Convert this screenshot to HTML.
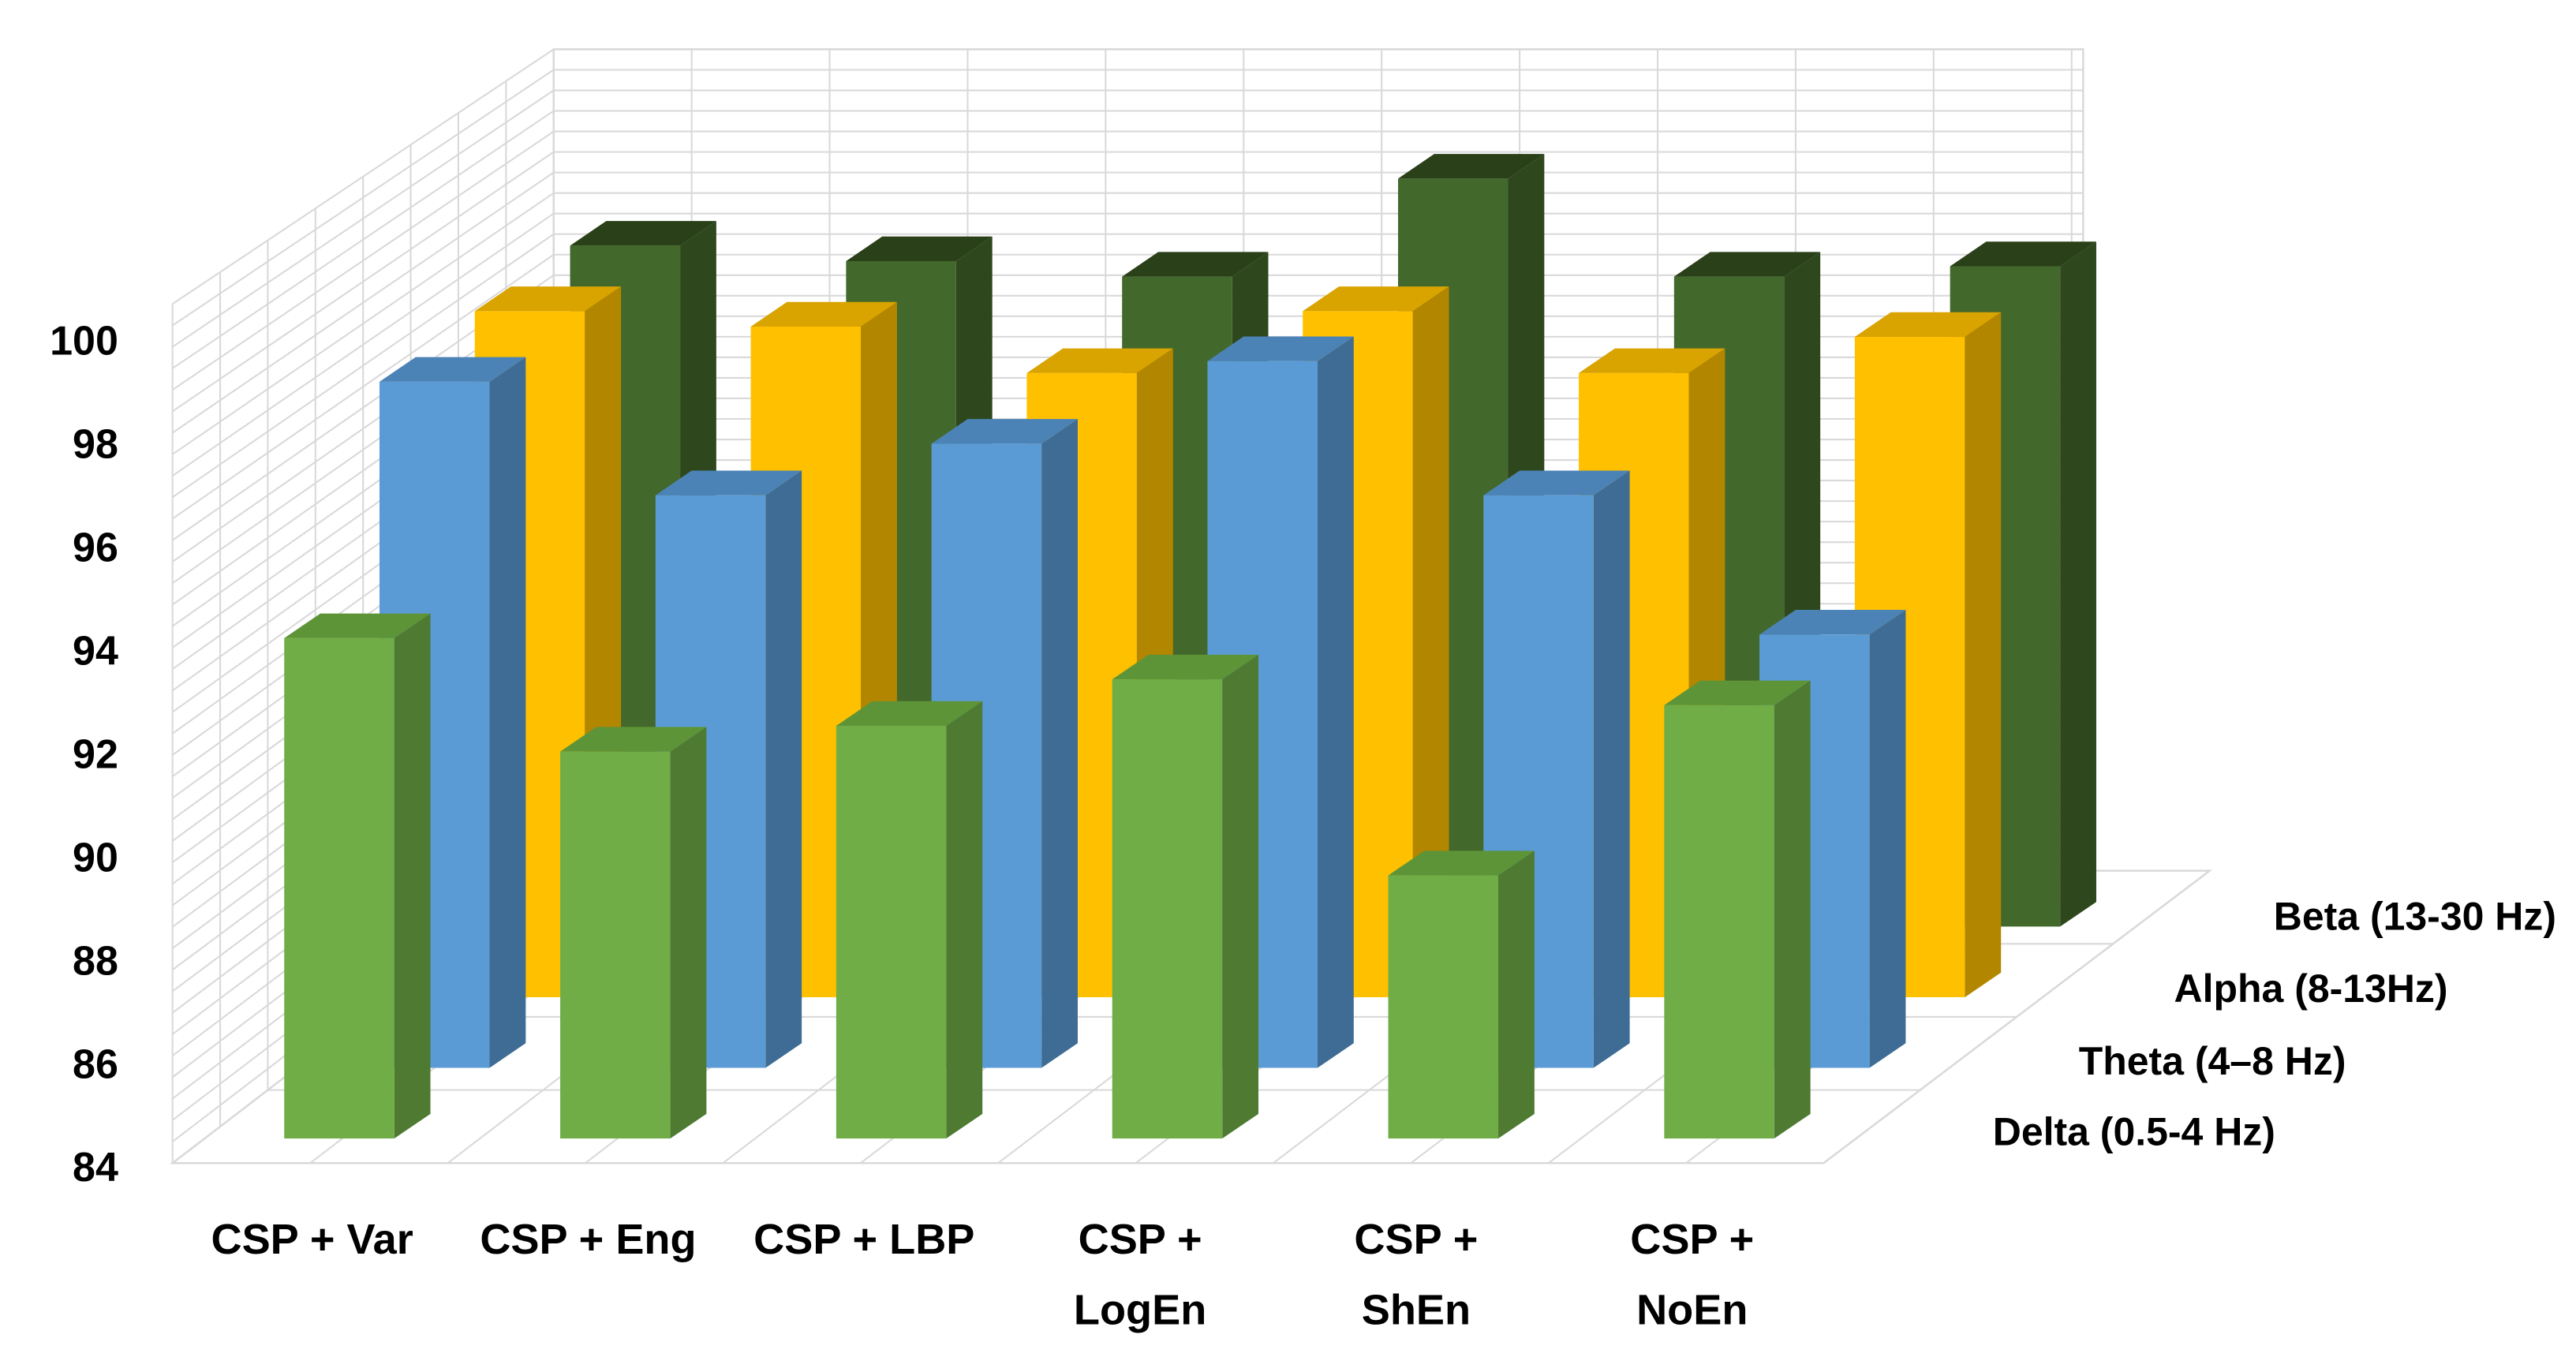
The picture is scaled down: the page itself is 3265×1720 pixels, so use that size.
<!DOCTYPE html>
<html><head><meta charset="utf-8">
<style>
html,body{margin:0;padding:0;background:#fff;}
svg{display:block;}
text{font-family:"Liberation Sans",sans-serif;font-weight:bold;fill:#000;}
</style></head>
<body>
<svg id="chart" width="3265" height="1720" viewBox="0 0 1568 826" preserveAspectRatio="none" xmlns="http://www.w3.org/2000/svg">
<g id="grid"></g>
<g id="bars"></g>
<g id="labels"></g>
</svg>
<script>
const categories = ["CSP + Var","CSP + Eng","CSP + LBP","CSP + LogEn","CSP + ShEn","CSP + NoEn"];
const seriesNames = ["Delta (0.5-4 Hz)","Theta (4–8 Hz)","Alpha (8-13Hz)","Beta (13-30 Hz)"];
const delta = [93.7,91.5,92.0,92.9,89.1,92.4];
const theta = [97.3,95.1,96.1,97.7,95.1,92.4];
const alpha = [97.3,97.0,96.1,97.3,96.1,96.8];
const beta  = [97.2,96.9,96.6,98.5,96.6,96.8];
const yTicks = [84,86,88,90,92,94,96,98,100];

const NS="http://www.w3.org/2000/svg";
function mk(tag,attrs,parent){const e=document.createElementNS(NS,tag);for(const k in attrs)e.setAttribute(k,attrs[k]);parent.appendChild(e);return e;}
const grid=document.getElementById('grid'), barsG=document.getElementById('bars'), labels=document.getElementById('labels');

const yMin=84, pxPerUnit=31.4;
const frontBase=693, rowDx=58, rowDy=43, catStep=168, x0=173, barW=67, depX=22, depY=15;
function xPos(ci,row){return x0+ci*catStep+row*rowDx;}
function yPos(v,row){return frontBase-row*rowDy-(v-yMin)*pxPerUnit;}

// grid
const gc="#d9d9d9";
mk('polygon',{points:"337,30 1268,30 1268,530 337,530",fill:"none",stroke:gc,'stroke-width':1.2},grid);
for(let y=30;y<=530;y+=12.5){
  mk('line',{x1:337,y1:y,x2:1268,y2:y,stroke:gc,'stroke-width':1},grid);
  const t=(y-30)/500; const yl=185+t*(708-185);
  mk('line',{x1:105,y1:yl,x2:337,y2:y,stroke:gc,'stroke-width':1},grid);
}
for(let x=337;x<=1270;x+=84){mk('line',{x1:x,y1:30,x2:x,y2:530,stroke:gc,'stroke-width':1},grid);}
for(let i=0;i<=8;i++){const x=105+i*29, yt=185-i*(155/8), yb=708-i*(178/8);
  mk('line',{x1:x,y1:yt,x2:x,y2:yb,stroke:gc,'stroke-width':1},grid);}
// floor
mk('polygon',{points:"105,708 1110,708 1345,530 337,530",fill:"none",stroke:gc,'stroke-width':1.2},grid);
for(let i=1;i<4;i++){const f=i/4; mk('line',{x1:105+232*f,y1:708-178*f,x2:1110+235*f,y2:708-178*f,stroke:gc,'stroke-width':1},grid);}
for(let c=0;c<=12;c++){const xf=105+c*83.75, xb=337+c*84; mk('line',{x1:xf,y1:708,x2:xb,y2:530,stroke:gc,'stroke-width':1},grid);}

const series=[delta,theta,alpha,beta];
const colors=[["#70AD47","#4E7A32","#5E9438"],["#5B9BD5","#3F6C94","#4C83B6"],["#FFC000","#B38600","#D9A300"],["#43682B","#2E471D","#2A4019"]];
const keys=["delta","theta","alpha","beta"];
for(let r=3;r>=0;r--){
  const vals=series[r];
  for(let ci=0;ci<categories.length;ci++){
    const x=xPos(ci,r), yb=frontBase-r*rowDy, yt=yPos(vals[ci],r);
    const g=mk('g',{},barsG);
    
    
    mk('polygon',{points:`${x+barW},${yt} ${x+barW+depX},${yt-depY} ${x+barW+depX},${yb-depY} ${x+barW},${yb}`,fill:colors[r][1]},g);
    mk('polygon',{points:`${x},${yt} ${x+depX},${yt-depY} ${x+barW+depX},${yt-depY} ${x+barW},${yt}`,fill:colors[r][2]},g);
    mk('rect',{x:x,y:yt,width:barW,height:yb-yt,fill:colors[r][0]},g);
  }
}
// y ticks
yTicks.forEach(v=>{
  const t=mk('text',{x:72,y:710-(v-84)*31.44+9,'text-anchor':'end','font-size':25},labels);
  t.textContent=v;
  
  
});
// category labels
categories.forEach((c,i)=>{
  const cx=190+i*168;
  const parts=(i<3)?[c]:["CSP +",c.replace("CSP + ","")];
  parts.forEach((p,j)=>{
    const t=mk('text',{x:cx,y:763+j*43,'text-anchor':'middle','font-size':26},labels);
    t.textContent=p;
    
    
  });
});
// series labels
const sx=[1385,1428,1490,1556], sy=[697,654,610,566];
seriesNames.forEach((s,i)=>{
  const t=mk('text',{x:sx[i],y:sy[i],'text-anchor':'end','font-size':24},labels);
  t.textContent=s;
  
  
});
</script>
</body></html>
